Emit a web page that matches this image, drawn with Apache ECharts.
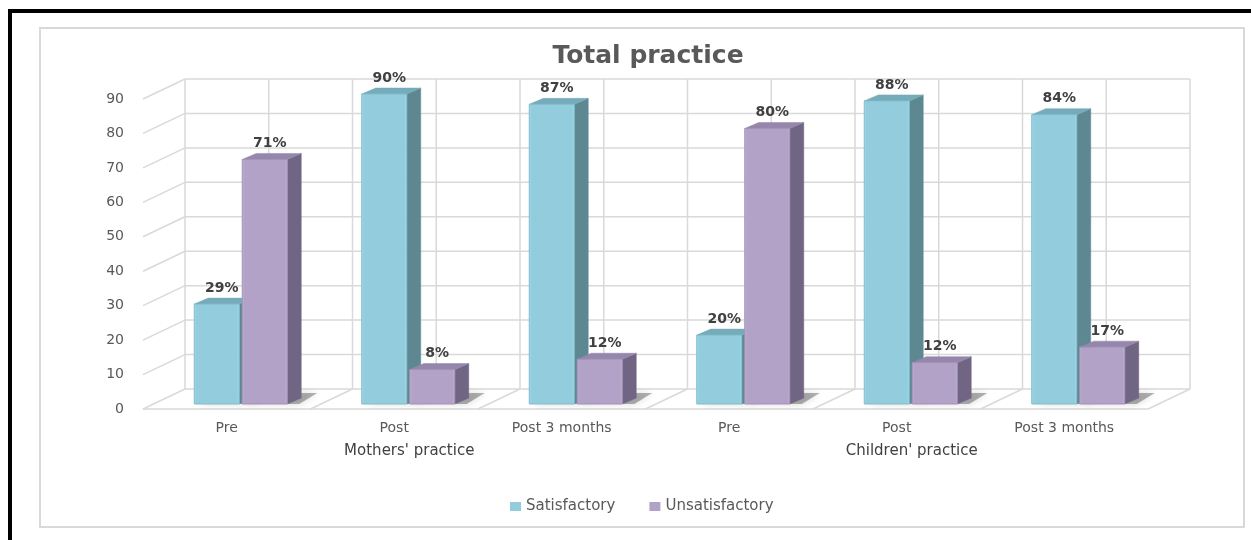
<!DOCTYPE html>
<html>
<head>
<meta charset="utf-8">
<script src="https://cdn.jsdelivr.net/npm/echarts@6/dist/echarts.min.js"></script>
<style>
html,body{margin:0;padding:0;background:#fff;}
#chart{width:1251px;height:540px;}
</style>
</head>
<body>
<div id="chart"></div>
<script>
// ---- data ----
const categories = ['Pre', 'Post', 'Post 3 months', 'Pre', 'Post', 'Post 3 months'];
const groups = ["Mothers' practice", "Children' practice"];
const satisfactory = [29, 90, 87, 20, 88, 84];
const satisfactoryLabels = ['29%', '90%', '87%', '20%', '88%', '84%'];
const unsatisfactory = [71, 10, 13, 80, 12, 16.5];
const unsatisfactoryLabels = ['71%', '8%', '12%', '80%', '12%', '17%'];
const yTicks = [0, 10, 20, 30, 40, 50, 60, 70, 80, 90];
const seriesNames = ['Satisfactory', 'Unsatisfactory'];

// ---- style constants ----
const DEPTH = [42, -20];     // back wall offset
const PLANE = [14, -5];      // bar plane offset
const BAR_D = [14, -6];      // bar depth
const GRID_C = '#D9D9D9';
const FONT = 'DejaVu Sans';

const chart = echarts.init(document.getElementById('chart'), null, {renderer: 'canvas'});

function gl(x1, y1, x2, y2) {
  return {type: 'line', shape: {x1, y1, x2, y2}, style: {stroke: GRID_C, lineWidth: 1.5}, silent: true};
}

function wallRender(params, api) {
  const v = api.value(1);
  const bw = api.size([1, 0])[0];
  const p = api.coord([0, v]);
  const xl = p[0] - bw / 2;
  const xr = api.coord([categories.length - 1, v])[0] + bw / 2;
  const y = p[1];
  const ch = [
    gl(xl, y, xl + DEPTH[0], y + DEPTH[1]),
    gl(xl + DEPTH[0], y + DEPTH[1], xr + DEPTH[0], y + DEPTH[1])
  ];
  if (v === yTicks[0]) {
    ch.push(gl(xl, y, xr, y));
    ch.push(gl(xr, y, xr + DEPTH[0], y + DEPTH[1]));
  }
  return {type: 'group', children: ch};
}

function vertRender(params, api) {
  const i = api.value(0);
  const bw = api.size([1, 0])[0];
  const c = api.coord([i, yTicks[0]]);
  const t = api.coord([i, yTicks[yTicks.length - 1]]);
  const yb = c[1] + DEPTH[1], yt = t[1] + DEPTH[1];
  const xl = c[0] - bw / 2;
  const ch = [
    gl(xl + DEPTH[0], yt, xl + DEPTH[0], yb),
    gl(c[0] + DEPTH[0], yt, c[0] + DEPTH[0], yb)
  ];
  if (i > 0) ch.push(gl(xl, c[1], xl + DEPTH[0], yb));
  if (i === categories.length - 1) {
    ch.push(gl(xl + bw + DEPTH[0], yt, xl + bw + DEPTH[0], yb));
  }
  return {type: 'group', children: ch};
}

function barGeom(api, side) {
  const i = api.value(0), v = api.value(1);
  const top = api.coord([i, v]);
  const base = api.coord([i, 0]);
  const cx = top[0] + PLANE[0];
  const w = 45;
  const x0 = side === 0 ? cx - 1.5 - w : cx + 1.5;
  const x1 = x0 + w;
  return {x0, x1, yt: top[1] + PLANE[1], yb: base[1] + PLANE[1]};
}

function shadowRender(side) {
  return function (params, api) {
    const g = barGeom(api, side);
    return {
      type: 'polygon',
      shape: {points: [[g.x0 + 4, g.yb], [g.x1 + 12, g.yb], [g.x1 + 30, g.yb - 11], [g.x0 + 22, g.yb - 11]]},
      style: {fill: 'rgba(40,40,40,0.35)', shadowBlur: 7, shadowColor: 'rgba(0,0,0,0.45)'},
      silent: true
    };
  };
}

function barRender(side, colors, labels) {
  return function (params, api) {
    const g = barGeom(api, side);
    const dx = BAR_D[0], dy = BAR_D[1];
    return {
      type: 'group',
      children: [
        {type: 'polygon', shape: {points: [[g.x1, g.yt], [g.x1 + dx, g.yt + dy], [g.x1 + dx, g.yb + dy], [g.x1, g.yb]]},
         style: {fill: colors.side, stroke: colors.side, lineWidth: 0.5}},
        {type: 'polygon', shape: {points: [[g.x0, g.yt], [g.x1, g.yt], [g.x1 + dx, g.yt + dy], [g.x0 + dx, g.yt + dy]]},
         style: {fill: colors.top, stroke: colors.top, lineWidth: 0.5}},
        {type: 'rect', shape: {x: g.x0, y: g.yt, width: g.x1 - g.x0, height: g.yb - g.yt},
         style: {fill: new echarts.graphic.LinearGradient(0, 0, 1, 0, [
           {offset: 0, color: colors.edge}, {offset: 0.06, color: colors.front},
           {offset: 0.94, color: colors.front}, {offset: 1, color: colors.edge}]),
           stroke: colors.stroke, lineWidth: 1}},
        {type: 'text', style: {text: labels[params.dataIndex], x: (g.x0 + g.x1) / 2 + 5, y: g.yt - 16,
          align: 'center', verticalAlign: 'middle', fill: '#404040', font: 'bold 14px "' + FONT + '"'}}
      ]
    };
  };
}

const satColors = {front: '#93CDDD', edge: '#A9DCE9', side: '#5E8891', top: '#76ABBA', stroke: '#7FBCCC'};
const unsColors = {front: '#B3A2C7', edge: '#C2B4D3', side: '#716584', top: '#9586AB', stroke: '#A392B8'};

const option = {
  animation: false,
  color: [satColors.front, unsColors.front],
  title: {
    text: 'Total practice', left: 643, top: 39, textAlign: 'center',
    textStyle: {fontFamily: FONT, fontWeight: 'bold', fontSize: 25, color: '#595959'}
  },
  legend: {
    data: seriesNames, left: 505, top: 494, itemWidth: 11, itemHeight: 9, itemGap: 34,
    icon: 'rect',
    textStyle: {fontFamily: FONT, fontSize: 15, color: '#595959'}
  },
  graphic: [
    {type: 'rect', shape: {x: 40, y: 28, width: 1204, height: 499}, style: {fill: 'none', stroke: '#D9D9D9', lineWidth: 2}, z: -10, silent: true},
    {type: 'rect', shape: {x: 8, y: 9, width: 1250, height: 4}, style: {fill: '#000'}, z: -10, silent: true},
    {type: 'rect', shape: {x: 8, y: 9, width: 4, height: 540}, style: {fill: '#000'}, z: -10, silent: true}
  ],
  grid: {left: 143, right: 103, top: 99, bottom: 131, containLabel: false},
  xAxis: [
    {type: 'category', data: categories, gridIndex: 0, position: 'bottom',
     axisLine: {show: false}, axisTick: {show: false}, splitLine: {show: false},
     axisLabel: {margin: 12, fontFamily: FONT, fontSize: 14, color: '#595959'}},
    {type: 'category', data: groups, gridIndex: 0, position: 'bottom',
     axisLine: {show: false}, axisTick: {show: false}, splitLine: {show: false},
     axisLabel: {margin: 35, fontFamily: FONT, fontSize: 15, color: '#404040', padding: [0, 0, 0, 30]}}
  ],
  yAxis: {
    type: 'value', min: yTicks[0], max: yTicks[yTicks.length - 1], interval: yTicks[1] - yTicks[0],
    axisLine: {show: false}, axisTick: {show: false}, splitLine: {show: false},
    axisLabel: {margin: 19, fontFamily: FONT, fontSize: 14, color: '#595959'}
  },
  series: [
    {type: 'custom', name: 'wall', z: 0, silent: true, renderItem: wallRender,
     data: yTicks.map(v => [0, v]), encode: {x: 0, y: 1}},
    {type: 'custom', name: 'wallv', z: 0, silent: true, renderItem: vertRender,
     data: categories.map((c, i) => [i, 0]), encode: {x: 0, y: 1}},
    {type: 'custom', name: 'shadowS', z: 1, silent: true, renderItem: shadowRender(0),
     data: satisfactory.map((v, i) => [i, v]), encode: {x: 0, y: 1}},
    {type: 'custom', name: 'shadowU', z: 1, silent: true, renderItem: shadowRender(1),
     data: unsatisfactory.map((v, i) => [i, v]), encode: {x: 0, y: 1}},
    {type: 'custom', name: seriesNames[0], z: 3, itemStyle: {color: satColors.front},
     renderItem: barRender(0, satColors, satisfactoryLabels),
     data: satisfactory.map((v, i) => [i, v]), encode: {x: 0, y: 1}},
    {type: 'custom', name: seriesNames[1], z: 4, itemStyle: {color: unsColors.front},
     renderItem: barRender(1, unsColors, unsatisfactoryLabels),
     data: unsatisfactory.map((v, i) => [i, v]), encode: {x: 0, y: 1}}
  ]
};
chart.setOption(option);
</script>
</body>
</html>
